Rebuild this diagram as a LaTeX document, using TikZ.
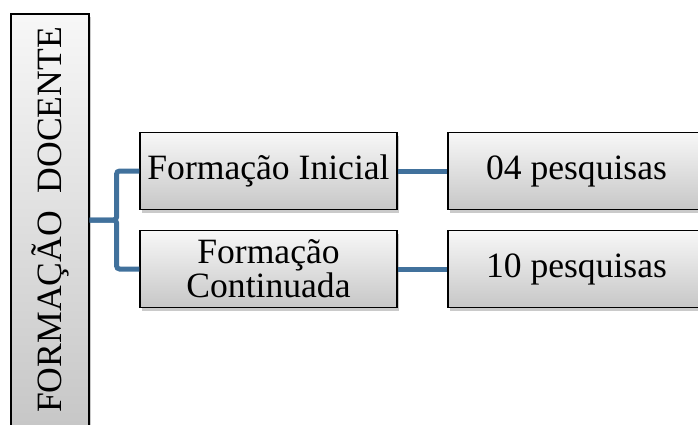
\documentclass[tikz,border=0pt]{standalone}
\usepackage{fontspec}
\setmainfont{Liberation Serif}
\usetikzlibrary{shadows}
\definecolor{azulliga}{RGB}{65,113,156}
\tikzset{
	caixa/.style={draw=black, line width=1.2pt, top color=black!3, bottom color=black!22,
		minimum width=257pt, minimum height=77pt, inner sep=0pt, align=center,
		font=\fontsize{35.6}{34}\selectfont,
		drop shadow={shadow xshift=2pt, shadow yshift=-3pt, fill=black!35, opacity=0.6}},
	ligacao/.style={draw=azulliga, line width=5pt, rounded corners=3pt}
}
\begin{document}
\begin{tikzpicture}[x=1pt,y=1pt]
		\useasboundingbox (0,0) rectangle (698,424);
		\clip (0,0) rectangle (698,424);
		\node[caixa, rotate=90, minimum width=412pt, minimum height=78pt] (docente) at (50,204) {FORMAÇÃO\ \ DOCENTE};
		\node[caixa] (inicial) at (268.5,253) {Formação Inicial};
		\node[caixa] (continuada) at (268.5,155) {Formação\\Continuada};
		\node[caixa] (pesq1) at (576.5,253) {04 pesquisas};
		\node[caixa] (pesq2) at (576.5,155) {10 pesquisas};
		\draw[ligacao] (docente.south) -- ++(27,0) |- (inicial.west);
		\draw[ligacao] (docente.south) -- ++(27,0) |- (continuada.west);
		\draw[ligacao] (inicial.east) -- (pesq1.west);
		\draw[ligacao] (continuada.east) -- (pesq2.west);
\end{tikzpicture}
\end{document}
